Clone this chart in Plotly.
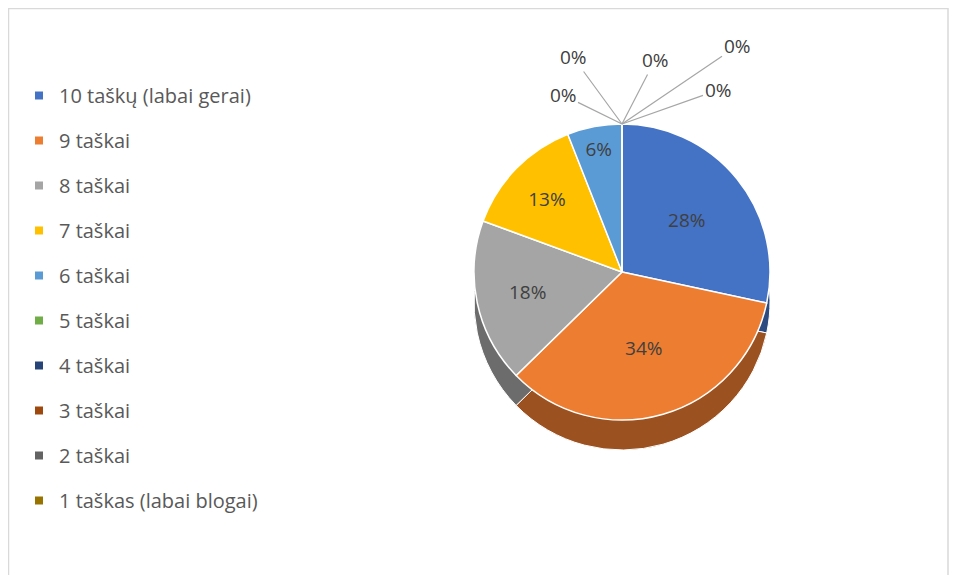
import plotly.graph_objects as go

labels = ["10 taškų (labai gerai)", "9 taškai", "8 taškai", "7 taškai", "6 taškai",
          "5 taškai", "4 taškai", "3 taškai", "2 taškai", "1 taškas (labai blogai)"]
counts = [19, 23, 12, 9, 4, 0, 0, 0, 0, 0]
colors = ["#4472C4", "#ED7D31", "#A5A5A5", "#FFC000", "#5B9BD5",
          "#70AD47", "#264478", "#9E480E", "#636363", "#997300"]


def darken(hexc, f=0.66):
    h = hexc.lstrip("#")
    r, g, b = (int(h[i:i + 2], 16) for i in (0, 2, 4))
    return "#%02x%02x%02x" % (int(r * f), int(g * f), int(b * f))


side_colors = [darken(c) for c in colors]

OFF = 8  # browser body margin
W, H = 957 - OFF, 575 - OFF
cx, cy, r = 622 - OFF, 272 - OFF, 148  # pie placement in pixels (figure coords)
depth = 30


def dom(cx_, cy_, r_):
    return dict(x=[(cx_ - r_) / W, (cx_ + r_) / W], y=[1 - (cy_ + r_) / H, 1 - (cy_ - r_) / H])


fig = go.Figure()
# side (depth) of the pie
fig.add_trace(go.Pie(
    labels=labels, values=counts, sort=False, direction="clockwise", rotation=0,
    marker=dict(colors=side_colors, line=dict(color="white", width=1)),
    textinfo="none", showlegend=False, hoverinfo="skip",
    domain=dom(cx, cy + depth, r),
))
# top face
fig.add_trace(go.Pie(
    labels=labels, values=counts, sort=False, direction="clockwise", rotation=0,
    marker=dict(colors=colors, line=dict(color="white", width=1.5)),
    texttemplate="%{percent:.0%}", textposition="inside",
    insidetextorientation="horizontal",
    textfont=dict(color="#404040", size=19, family="Open Sans"),
    showlegend=False, hoverinfo="label+percent",
    domain=dom(cx, cy, r),
))

for lab, col in zip(labels, colors):
    fig.add_trace(go.Scatter(x=[None], y=[None], mode="markers", name=lab, legendgroup=lab,
                             marker=dict(symbol="square", size=8, color=col)))

# labels for zero-valued slices with leader lines
total = sum(counts)
zero_offsets = [(-59, -29), (-49, -67), (33, -64), (115, -78), (96, -34)]
zi = 0
for lab, v in zip(labels, counts):
    if v == 0:
        ax, ay = zero_offsets[zi]
        zi += 1
        fig.add_annotation(x=cx / W, y=1 - (cy - r) / H, xref="paper", yref="paper",
                           text=f"{v / total:.0%}", showarrow=True, arrowhead=0,
                           arrowwidth=1.2, arrowcolor="#A6A6A6", ax=ax, ay=ay,
                           standoff=0, font=dict(color="#404040", size=19, family="Open Sans"))

fig.add_shape(type="rect", xref="paper", yref="paper", x0=0.5 / W, x1=(948 - OFF) / W,
              y0=-0.05, y1=1 - 0.5 / H, line=dict(color="#D9D9D9", width=1.5))

fig.update_layout(
    width=W, height=H, margin=dict(l=0, r=0, t=0, b=0),
    paper_bgcolor="white", plot_bgcolor="white",
    xaxis=dict(visible=False), yaxis=dict(visible=False),
    legend=dict(x=(19 - OFF) / W, y=1 - (76 - OFF) / H, xanchor="left", yanchor="top",
                tracegroupgap=16, font=dict(size=20, color="#595959", family="Open Sans"),
                bgcolor="rgba(0,0,0,0)", itemclick=False),
    font=dict(family="Open Sans"),
)

fig.write_html("out.html")
